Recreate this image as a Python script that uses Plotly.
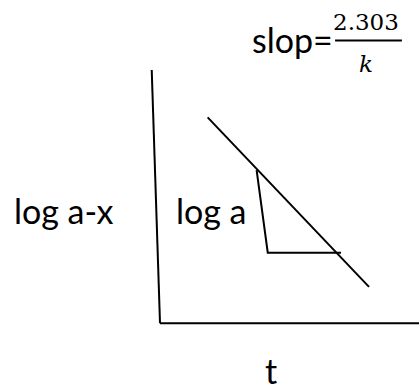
import plotly.graph_objects as go

# Diagram data (nominal units: t along x, log(a-x) along y)
y_axis_x = [-0.32, 0.0]
y_axis_y = [10.0, 0.0]
x_axis_x = [0.0, 10.0]
x_axis_y = [0.0, 0.0]
line_x = [1.84, 8.07]
line_y = [8.13, 1.44]
tri_x = [3.73, 4.16, 6.99]
tri_y = [6.05, 2.79, 2.79]

x_label = "t"
y_label = "log a-x"
tri_label = "log a"
slope_text = "slop="
slope_num = "2.303"
slope_den = "k"

fig = go.Figure()
for xs, ys in [(y_axis_x, y_axis_y), (x_axis_x, x_axis_y), (line_x, line_y), (tri_x, tri_y)]:
    fig.add_trace(go.Scatter(x=xs, y=ys, mode="lines",
                             line=dict(color="black", width=2),
                             hoverinfo="skip", showlegend=False))

sans = "Lato, Calibri, 'Noto Sans', sans-serif"
serif = "'DejaVu Serif', serif"
fig.add_annotation(x=-3.72, y=4.47, text=y_label, showarrow=False,
                   font=dict(family=sans, size=34, color="black"))
fig.add_annotation(x=1.98, y=4.47, text=tri_label, showarrow=False,
                   font=dict(family=sans, size=34, color="black"))
fig.add_annotation(x=4.3, y=-1.86, text=x_label, showarrow=False,
                   font=dict(family=sans, size=34, color="black"))
fig.add_annotation(x=5.1, y=11.19, text=slope_text, showarrow=False,
                   font=dict(family=sans, size=34, color="black"))
fig.add_annotation(x=7.97, y=11.9, text=slope_num, showarrow=False,
                   font=dict(family=serif, size=23, color="black"))
fig.add_annotation(x=7.97, y=10.24, text="<i>" + slope_den + "</i>", showarrow=False,
                   font=dict(family=serif, size=23, color="black"))
fig.add_shape(type="line", x0=6.76, x1=9.34, y0=11.16, y1=11.16,
              line=dict(color="black", width=2))

fig.update_layout(
    width=419, height=390,
    margin=dict(l=0, r=0, t=0, b=0),
    paper_bgcolor="white", plot_bgcolor="white",
    xaxis=dict(range=[-6.178, 10.0], visible=False, fixedrange=True),
    yaxis=dict(range=[-2.633, 12.763], visible=False, fixedrange=True),
)
fig.write_html("out.html", config={"displayModeBar": False},
               post_script="document.body.style.margin='0';document.body.style.overflow='hidden';")
